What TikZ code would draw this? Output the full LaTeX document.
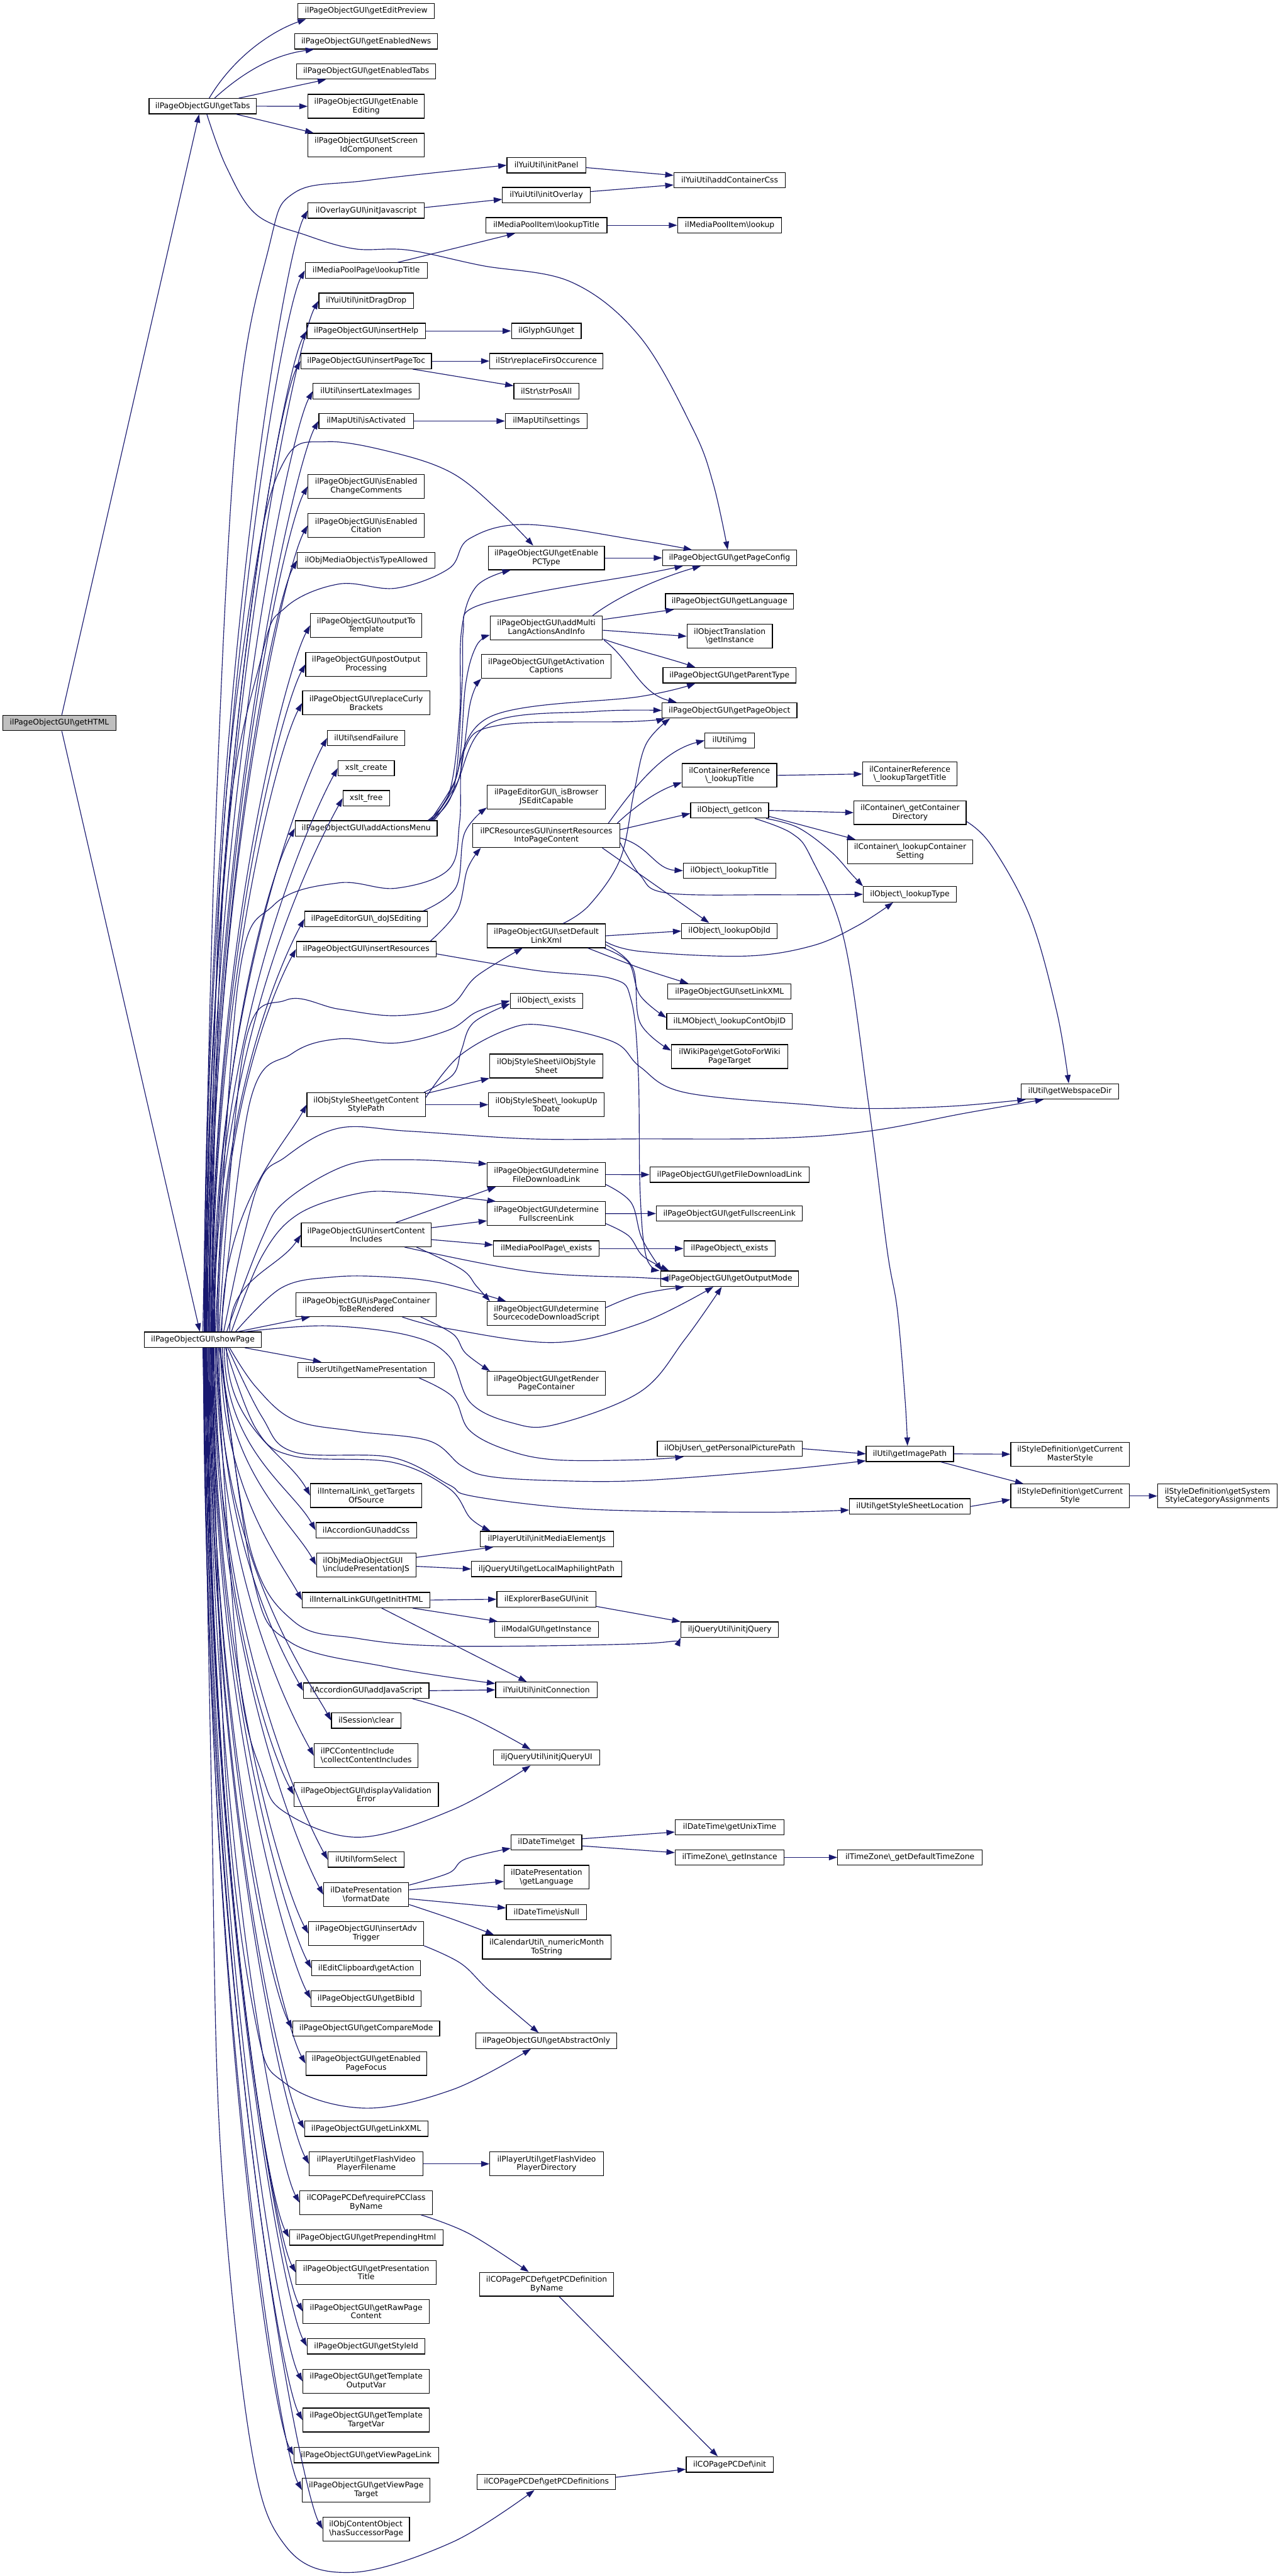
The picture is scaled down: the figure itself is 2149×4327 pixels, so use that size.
\documentclass[tikz,border=0pt]{standalone}
\usepackage{fontspec}
\setmainfont{DejaVu Sans}
\usetikzlibrary{arrows.meta,calc}
\definecolor{edgec}{HTML}{191970}
\definecolor{hdrfill}{HTML}{BFBFBF}
\newcommand\bsl{\textbackslash}
\tikzset{
 nbox/.style={draw=black, fill=white, line width=0.75pt, inner sep=0pt, align=center, font=\fontsize{7.4pt}{8.2pt}\selectfont},
 arr/.style={draw=edgec, line width=0.7pt, -{Triangle[length=8pt,width=5.5pt]}},
}
\newcommand\nA[5]{\node[nbox, minimum width={#4*0.569055pt}, minimum height=14.7pt] (#1) at (#2,#3) {#5};}
\newcommand\nB[5]{\node[nbox, minimum width={#4*0.569055pt}, minimum height=22.8pt] (#1) at (#2,#3) {#5};}
\newcommand\nL[5]{\node[nbox, align=left, minimum width={#4*0.569055pt}, minimum height=22.8pt] (#1) at (#2,#3) {#5};}
\newcommand\fanup[2]{\draw[arr] let \p1=(#1.west), \p2=($(showPage.north)+(#2,0)$), \n1={\y1-\y2} in (\p2) .. controls (\x2,{\y2+0.55*\n1}) and ({\x1-22pt},{\y1-min(40pt,0.35*\n1)}) .. (\p1);}
\newcommand\fandown[2]{\draw[arr] let \p1=(#1.west), \p2=($(showPage.south)+(#2,0)$), \n1={\y2-\y1} in (\p2) .. controls (\x2,{\y2-0.55*\n1}) and ({\x1-22pt},{\y1+min(40pt,0.35*\n1)}) .. (\p1);}
\newcommand\pth[1]{\draw[arr] plot[smooth, tension=0.6] coordinates {#1};}
\begin{document}
\begin{tikzpicture}[x=0.02cm,y=-0.02cm]
\fill[white] (0,0) rectangle (2149,4327);
\path[use as bounding box] (0,0) rectangle (2149,4327);
% ---------- column 1
\node[nbox, fill=hdrfill, minimum width={190*0.569055pt}, minimum height=14.7pt] (getHTML) at (99.8,1214.4) {ilPageObjectGUI\bsl getHTML};
\nA{getTabs}{340.4}{178.4}{180.3}{ilPageObjectGUI\bsl getTabs}
\nA{showPage}{340.7}{2250.4}{196}{ilPageObjectGUI\bsl showPage}
% ---------- column 2
\nA{editPrev}{615}{18.4}{229}{ilPageObjectGUI\bsl getEditPreview}
\nA{enNews}{615}{69.4}{240}{ilPageObjectGUI\bsl getEnabledNews}
\nA{enTabs}{615}{120}{233.6}{ilPageObjectGUI\bsl getEnabledTabs}
\nB{enEdit}{615}{178.6}{195.4}{ilPageObjectGUI\bsl getEnable\\Editing}
\nB{setScreen}{615}{243.9}{195.4}{ilPageObjectGUI\bsl setScreen\\IdComponent}
\nA{initJs}{615}{353.6}{195.4}{ilOverlayGUI\bsl initJavascript}
\nA{mppLookupTitle}{615}{454.3}{205}{ilMediaPoolPage\bsl lookupTitle}
\nA{dragDrop}{615}{505.3}{159}{ilYuiUtil\bsl initDragDrop}
\nA{insHelp}{615}{555.9}{198.8}{ilPageObjectGUI\bsl insertHelp}
\nA{insToc}{615}{606.5}{219.4}{ilPageObjectGUI\bsl insertPageToc}
\nA{latex}{615}{657.1}{178.2}{ilUtil\bsl insertLatexImages}
\nA{mapAct}{615}{707.2}{159}{ilMapUtil\bsl isActivated}
\nB{enCC}{615}{816.9}{195.4}{ilPageObjectGUI\bsl isEnabled\\ChangeComments}
\nB{enCit}{615}{882.6}{195.4}{ilPageObjectGUI\bsl isEnabled\\Citation}
\nA{typeAllowed}{615}{941.3}{231}{ilObjMediaObject\bsl isTypeAllowed}
\nB{outTpl}{615}{1050.5}{187.2}{ilPageObjectGUI\bsl outputTo\\Template}
\nB{postOut}{615}{1115.8}{203}{ilPageObjectGUI\bsl postOutput\\Processing}
\nB{curly}{615}{1180.8}{213.9}{ilPageObjectGUI\bsl replaceCurly\\Brackets}
\nA{sendFail}{615}{1239.7}{130.2}{ilUtil\bsl sendFailure}
\nA{xsltCreate}{615}{1290.3}{94.6}{xslt\_create}
\nA{xsltFree}{615}{1340.9}{78.1}{xslt\_free}
\nA{actMenu}{615}{1391.4}{238.6}{ilPageObjectGUI\bsl addActionsMenu}
\nA{doJS}{615}{1543.6}{206.4}{ilPageEditorGUI\bsl\_doJSEditing}
\nA{insRes}{615}{1594.2}{234.5}{ilPageObjectGUI\bsl insertResources}
\nB{cssPath}{615}{1855.6}{198.8}{ilObjStyleSheet\bsl getContent\\StylePath}
\nB{insCI}{615}{2074.2}{218}{ilPageObjectGUI\bsl insertContent\\Includes}
\nB{pcRender}{615}{2191.5}{235.8}{ilPageObjectGUI\bsl isPageContainer\\ToBeRendered}
\nA{namePres}{615}{2301.2}{229}{ilUserUtil\bsl getNamePresentation}
\nB{targets}{615}{2512}{187.2}{ilInternalLink\bsl\_getTargets\\OfSource}
\nA{accCss}{615}{2570.4}{169}{ilAccordionGUI\bsl addCss}
\nL{inclPres}{615}{2629}{167}{ilObjMediaObjectGUI\\\bsl includePresentationJS}
\nA{getInitHTML}{615}{2687.6}{214.7}{ilInternalLinkGUI\bsl getInitHTML}
\nA{accJs}{615}{2839.9}{210.7}{ilAccordionGUI\bsl addJavaScript}
\nA{sessClear}{615}{2890}{116.5}{ilSession\bsl clear}
\nL{collectCI}{615}{2949.1}{174.7}{ilPCContentInclude\\\bsl collectContentIncludes}
\nB{valErr}{615}{3014.4}{242.4}{ilPageObjectGUI\bsl displayValidation\\Error}
\nA{formSel}{615}{3123.6}{128.2}{ilUtil\bsl formSelect}
\nB{fmtDate}{615}{3182.4}{142.8}{ilDatePresentation\\\bsl formatDate}
\nB{advTrig}{615}{3247.7}{193.3}{ilPageObjectGUI\bsl insertAdv\\Trigger}
\nA{clipAct}{615}{3306.1}{183}{ilEditClipboard\bsl getAction}
\nA{bibId}{615}{3357.2}{185.1}{ilPageObjectGUI\bsl getBibId}
\nA{cmpMode}{615}{3407.3}{246.7}{ilPageObjectGUI\bsl getCompareMode}
\nB{pageFocus}{615}{3466.1}{202.9}{ilPageObjectGUI\bsl getEnabled\\PageFocus}
\nA{linkXML}{615}{3575.6}{207.1}{ilPageObjectGUI\bsl getLinkXML}
\nB{flashFile}{615}{3634.7}{191.2}{ilPlayerUtil\bsl getFlashVideo\\PlayerFilename}
\nB{reqPC}{615}{3699.7}{223}{ilCOPagePCDef\bsl requirePCClass\\ByName}
\nA{prepHtml}{615}{3758.3}{257.8}{ilPageObjectGUI\bsl getPrependingHtml}
\nB{presTitle}{615}{3817.1}{235.3}{ilPageObjectGUI\bsl getPresentation\\Title}
\nB{rawContent}{615}{3882.5}{212}{ilPageObjectGUI\bsl getRawPage\\Content}
\nA{styleId}{615}{3941.1}{198}{ilPageObjectGUI\bsl getStyleId}
\nB{tplOut}{615}{3999.9}{212.7}{ilPageObjectGUI\bsl getTemplate\\OutputVar}
\nB{tplTarget}{615}{4065}{212.7}{ilPageObjectGUI\bsl getTemplate\\TargetVar}
\nA{viewLink}{615}{4123.9}{243}{ilPageObjectGUI\bsl getViewPageLink}
\nB{viewTarget}{615}{4182.4}{214.7}{ilPageObjectGUI\bsl getViewPage\\Target}
\nL{succPage}{615}{4248}{145.3}{ilObjContentObject\\\bsl hasSuccessorPage}
% ---------- column 3
\nA{initPanel}{917.6}{277.5}{132.3}{ilYuiUtil\bsl initPanel}
\nA{initOverlay}{917.6}{327.8}{147.4}{ilYuiUtil\bsl initOverlay}
\nA{mpiLookupTitle}{917.6}{378.4}{203.6}{ilMediaPoolItem\bsl lookupTitle}
\nA{glyph}{917.6}{555.9}{117.2}{ilGlyphGUI\bsl get}
\nA{replFirst}{917.6}{606.5}{190}{ilStr\bsl replaceFirsOccurence}
\nA{strPos}{917.6}{657.1}{109}{ilStr\bsl strPosAll}
\nA{mapSet}{917.6}{707.2}{137.8}{ilMapUtil\bsl settings}
\nB{enPC}{917.6}{937.1}{195.4}{ilPageObjectGUI\bsl getEnable\\PCType}
\nB{multiLang}{917.6}{1054.6}{188.5}{ilPageObjectGUI\bsl addMulti\\LangActionsAndInfo}
\nB{actCap}{917.6}{1119.4}{217.3}{ilPageObjectGUI\bsl getActivation\\Captions}
\nB{jsCapable}{917.6}{1338.8}{198.8}{ilPageEditorGUI\bsl\_isBrowser\\JSEditCapable}
\nB{pcRes}{917.6}{1403.6}{246.8}{ilPCResourcesGUI\bsl insertResources\\IntoPageContent}
\nB{defLink}{917.6}{1571.9}{198.2}{ilPageObjectGUI\bsl setDefault\\LinkXml}
\nA{objExists}{918}{1681.1}{122}{ilObject\bsl\_exists}
\nB{objSS}{917.6}{1790.5}{190}{ilObjStyleSheet\bsl ilObjStyle\\Sheet}
\nB{upToDate}{917.6}{1855.6}{194}{ilObjStyleSheet\bsl\_lookupUp\\ToDate}
\nB{detFile}{917.6}{1972.9}{198.2}{ilPageObjectGUI\bsl determine\\FileDownloadLink}
\nB{detFull}{917.6}{2038.6}{198.2}{ilPageObjectGUI\bsl determine\\FullscreenLink}
\nA{mppExists}{917.6}{2097.2}{177.6}{ilMediaPoolPage\bsl\_exists}
\nB{detSrc}{917.6}{2206.5}{198.2}{ilPageObjectGUI\bsl determine\\SourcecodeDownloadScript}
\nB{renderPC}{917.6}{2323.7}{198.2}{ilPageObjectGUI\bsl getRender\\PageContainer}
\nA{mediaEl}{918.3}{2585.1}{224}{ilPlayerUtil\bsl initMediaElementJs}
\nA{maphi}{918}{2635.5}{252.2}{iljQueryUtil\bsl getLocalMaphilightPath}
\nA{explInit}{917.7}{2686.3}{166.3}{ilExplorerBaseGUI\bsl init}
\nA{modal}{917.8}{2737.1}{174.5}{ilModalGUI\bsl getInstance}
\nA{initConn}{917.7}{2838.5}{170.6}{ilYuiUtil\bsl initConnection}
\nA{jqUI}{918}{2952.1}{178.3}{iljQueryUtil\bsl initjQueryUI}
\nA{dtGet}{917.8}{3094.6}{118.9}{ilDateTime\bsl get}
\nB{dpLang}{917.9}{3153.2}{142.6}{ilDatePresentation\\\bsl getLanguage}
\nA{dtNull}{917.8}{3211.9}{134.7}{ilDateTime\bsl isNull}
\nB{monthStr}{918.2}{3270.5}{216.1}{ilCalendarUtil\bsl\_numericMonth\\ToString}
\nA{abstractOnly}{917.6}{3428}{236.7}{ilPageObjectGUI\bsl getAbstractOnly}
\nB{flashDir}{918}{3634.7}{190.7}{ilPlayerUtil\bsl getFlashVideo\\PlayerDirectory}
\nB{pcDefByName}{918.1}{3836.9}{224.5}{ilCOPagePCDef\bsl getPCDefinition\\ByName}
\nA{pcDefs}{917.6}{4169.1}{232.3}{ilCOPagePCDef\bsl getPCDefinitions}
% ---------- column 4
\nA{addCss}{1225.5}{302.6}{187.2}{ilYuiUtil\bsl addContainerCss}
\nA{mpiLookup}{1225.5}{378.4}{174.8}{ilMediaPoolItem\bsl lookup}
\nA{pageConfig}{1225.2}{937.1}{224.9}{ilPageObjectGUI\bsl getPageConfig}
\nA{lang}{1225.2}{1010.2}{215.3}{ilPageObjectGUI\bsl getLanguage}
\nB{transl}{1225.5}{1068.8}{143.3}{ilObjectTranslation\\\bsl getInstance}
\nA{parentType}{1225.2}{1134.4}{223.5}{ilPageObjectGUI\bsl getParentType}
\nA{pageObj}{1225.2}{1193.3}{226.3}{ilPageObjectGUI\bsl getPageObject}
\nA{img}{1225.5}{1243.8}{83}{ilUtil\bsl img}
\nB{crTitle}{1225.2}{1302.4}{159}{ilContainerReference\\\bsl\_lookupTitle}
\nA{getIcon}{1225.5}{1361.3}{131}{ilObject\bsl\_getIcon}
\nA{lookupTitle}{1225.2}{1462.5}{155}{ilObject\bsl\_lookupTitle}
\nA{lookupObjId}{1225.1}{1563.9}{160.4}{ilObject\bsl\_lookupObjId}
\nA{setLinkXML}{1225.2}{1665.5}{207}{ilPageObjectGUI\bsl setLinkXML}
\nA{contObjID}{1225.2}{1715.6}{211}{ilLMObject\bsl\_lookupContObjID}
\nB{wiki}{1225.5}{1774.7}{195.4}{ilWikiPage\bsl getGotoForWiki\\PageTarget}
\nA{fileDL}{1225.2}{1973.1}{267.3}{ilPageObjectGUI\bsl getFileDownloadLink}
\nA{fullLink}{1225.1}{2038.4}{245.4}{ilPageObjectGUI\bsl getFullscreenLink}
\nA{poExists}{1225.2}{2097.2}{153.5}{ilPageObject\bsl\_exists}
\nA{outMode}{1225.2}{2147.9}{231.7}{ilPageObjectGUI\bsl getOutputMode}
\nA{picPath}{1225.5}{2433.4}{243.4}{ilObjUser\bsl\_getPersonalPicturePath}
\nA{jq}{1225.6}{2737.3}{164}{iljQueryUtil\bsl initjQuery}
\nA{unixTime}{1225.5}{3069.3}{183}{ilDateTime\bsl getUnixTime}
\nA{tzInst}{1225.5}{3119.9}{183}{ilTimeZone\bsl\_getInstance}
\nA{pcInit}{1225.5}{4139.6}{146}{ilCOPagePCDef\bsl init}
% ---------- column 5
\nB{crTarget}{1528.1}{1300.1}{159}{ilContainerReference\\\bsl\_lookupTargetTitle}
\nB{contDir}{1528.5}{1365}{188.5}{ilContainer\bsl\_getContainer\\Directory}
\nB{contSetting}{1528.5}{1430.7}{210.4}{ilContainer\bsl\_lookupContainer\\Setting}
\nA{lookupType}{1528.1}{1502.2}{156.3}{ilObject\bsl\_lookupType}
\nA{imgPath}{1528.1}{2442.1}{146.7}{ilUtil\bsl getImagePath}
\nA{ssLoc}{1528.2}{2530.4}{203}{ilUtil\bsl getStyleSheetLocation}
\nA{defTZ}{1528.2}{3119.9}{242.7}{ilTimeZone\bsl\_getDefaultTimeZone}
% ---------- column 6/7
\nA{webspace}{1796.9}{1833.3}{163.2}{ilUtil\bsl getWebspaceDir}
\nB{masterStyle}{1797.2}{2442.6}{199.4}{ilStyleDefinition\bsl getCurrent\\MasterStyle}
\nB{curStyle}{1797.2}{2512.9}{199.4}{ilStyleDefinition\bsl getCurrent\\Style}
\nB{sysStyle}{2044.7}{2512.9}{200.8}{ilStyleDefinition\bsl getSystem\\StyleCategoryAssignments}

% ================= edges
\draw[arr] ($(getHTML.north)+(4,0)$) -- ($(getTabs.south)+(-6,0)$);
\draw[arr] ($(getHTML.south)+(4,0)$) -- ($(showPage.north)+(-5,0)$);
% getTabs
\draw[arr] ($(getTabs.north)+(11,0)$) .. controls (390,100) and (450,55) .. ($(editPrev.south west)+(14,0)$);
\draw[arr] ($(getTabs.north)+(20,0)$) .. controls (410,120) and (460,92) .. ($(enNews.south west)+(33,0)$);
\draw[arr] ($(getTabs.north east)+(-30,0)$) -- ($(enTabs.south west)+(50,0)$);
\draw[arr] (getTabs.east) -- (enEdit.west);
\draw[arr] ($(getTabs.south east)+(-34,0)$) -- ($(setScreen.north west)+(10,0)$);
\pth{($(getTabs.south)+(7,0)$) (380,280) (430,360) (514,395) (596,418) (685,420) (809,446) (960,474) (1075,566) (1164,721) (1198,813) ($(pageConfig.north)+(-3,0)$)}
% showPage fan up
\fanup{initJs}{2}
\fanup{mppLookupTitle}{3}
\fanup{dragDrop}{4}
\fanup{insHelp}{5}
\fanup{insToc}{6}
\fanup{latex}{7}
\fanup{mapAct}{8}
\fanup{enCC}{10}
\fanup{enCit}{11}
\fanup{typeAllowed}{12}
\fanup{outTpl}{14}
\fanup{postOut}{15}
\fanup{curly}{16}
\fanup{sendFail}{17}
\fanup{xsltCreate}{18}
\fanup{xsltFree}{19}
\fanup{actMenu}{20}
\fanup{doJS}{24}
\fanup{insRes}{26}
\fanup{cssPath}{32}
\fanup{insCI}{45}
\draw[arr] ($(showPage.north east)+(-40,0)$) -- ($(pcRender.south west)+(24,0)$);
\draw[arr] ($(showPage.south east)+(-28,0)$) -- ($(namePres.north west)+(40,0)$);
% showPage fan down
\fandown{targets}{40}
\fandown{accCss}{36}
\fandown{inclPres}{33}
\fandown{getInitHTML}{30}
\fandown{accJs}{27}
\fandown{sessClear}{25}
\fandown{collectCI}{23}
\fandown{valErr}{21}
\fandown{formSel}{19}
\fandown{fmtDate}{18}
\fandown{advTrig}{17}
\fandown{clipAct}{16}
\fandown{bibId}{15}
\fandown{cmpMode}{14}
\fandown{pageFocus}{13}
\fandown{linkXML}{12}
\fandown{flashFile}{11}
\fandown{reqPC}{10}
\fandown{prepHtml}{9}
\fandown{presTitle}{8}
\fandown{rawContent}{7}
\fandown{styleId}{6}
\fandown{tplOut}{5}
\fandown{tplTarget}{4}
\fandown{viewLink}{3}
\fandown{viewTarget}{2}
\fandown{succPage}{1}
% showPage long edges
\pth{($(showPage.north)+(0,0)$) (360,1442) (397,721) (452,414) (494,324) (617,303) (initPanel.west)}
\pth{($(showPage.north)+(9,0)$) (372,1442) (430,950) (480,770) (548,742) (660,760) (760,795) (840,860) ($(enPC.north)+(-22,0)$)}
\pth{($(showPage.north)+(13,0)$) (378,1442) (440,1100) (480,1020) (569,981) (665,988) (754,955) (788,905) (884,881) (1075,908) ($(pageConfig.north west)+(50,0)$)}
\pth{($(showPage.north)+(21,0)$) (400,1650) (460,1520) (569,1483) (665,1492) (754,1460) (772,1380) (780,1260) (840,1218) (1060,1212) ($(pageObj.south west)+(5,0)$)}
\pth{($(showPage.north)+(27,0)$) (410,1760) (480,1680) (569,1695) (665,1706) (754,1690) (800,1640) ($(defLink.south)+(-40,0)$)}
\pth{($(showPage.north)+(30,0)$) (420,1850) (490,1770) (569,1745) (665,1752) (754,1730) (800,1700) (objExists.west)}
\pth{($(showPage.north)+(35,0)$) (430,2000) (480,1943) (569,1895) (686,1900) (891,1913) (1075,1913) (1300,1912) (1459,1900) (1620,1870) ($(webspace.south west)+(38,0)$)}
\pth{($(showPage.north)+(40,0)$) (440,2080) (480,2017) (583,1957) (686,1948) ($(detFile.north west)+(0,3)$)}
\pth{($(showPage.north)+(48,0)$) (440,2110) (500,2040) (600,2005) (679,2003) ($(detFull.north west)+(15,0)$)}
\pth{($(showPage.north)+(55,0)$) (473,2163) (560,2145) (651,2145) (740,2155) ($(detSrc.north west)+(32,0)$)}
\pth{($(showPage.north east)+(-28,0)$) (548,2227) (686,2243) (754,2278) (790,2356) (860,2390) (932,2393) (1075,2338) (1150,2250) ($(outMode.south)+(-13,0)$)}
\pth{($(showPage.south)+(45,0)$) (430,2330) (494,2385) (596,2404) (720,2420) (775,2462) (822,2480) (932,2487) (1075,2487) (1300,2470) ($(imgPath.south west)+(0,-2)$)}
\pth{($(showPage.south)+(42,0)$) (440,2380) (494,2439) (658,2448) (754,2494) (788,2512) (932,2531) (1075,2538) (1300,2540) ($(ssLoc.west)+(0,6)$)}
\pth{($(showPage.south)+(38,0)$) (430,2400) (494,2446) (658,2456) (754,2500) (790,2550) ($(mediaEl.north west)+(18,0)$)}
\pth{($(showPage.south)+(28,0)$) (420,2600) (494,2724) (600,2752) (754,2765) (1075,2761) (jq.south west)}
\pth{($(showPage.south)+(29,0)$) (425,2650) (487,2758) (650,2800) ($(initConn.north west)+(0,3)$)}
\pth{($(showPage.south)+(22,0)$) (400,2800) (440,2980) (480,3045) (603,3086) (760,3040) ($(jqUI.south)+(-27,0)$)}
\pth{($(showPage.south)+(14,0)$) (380,3000) (430,3400) (480,3500) (610,3541) (760,3510) ($(abstractOnly.south)+(-26,0)$)}
\pth{(showPage.south) (355,3000) (370,3605) (420,4100) (480,4277) (590,4321) (760,4270) ($(pcDefs.south)+(-20,0)$)}
% upper region
\draw[arr] ($(initPanel.east)+(0,4)$) -- ($(addCss.west)+(0,-8)$);
\draw[arr] ($(initOverlay.east)+(0,-6)$) -- ($(addCss.west)+(0,8)$);
\draw[arr] ($(initJs.east)+(0,-5)$) -- ($(initOverlay.west)+(0,7)$);
\draw[arr] ($(mppLookupTitle.north)+(53,0)$) -- ($(mpiLookupTitle.south west)+(50,0)$);
\draw[arr] (mpiLookupTitle.east) -- (mpiLookup.west);
\draw[arr] (insHelp.east) -- (glyph.west);
\draw[arr] (insToc.east) -- (replFirst.west);
\draw[arr] ($(insToc.south east)+(-32,0)$) -- ($(strPos.west)+(0,-9)$);
\draw[arr] (mapAct.east) -- (mapSet.west);
% middle-upper
\draw[arr] (enPC.east) -- (pageConfig.west);
\draw[arr] ($(multiLang.north east)+(-17,0)$) .. controls (1040,1000) and (1110,970) .. ($(pageConfig.south west)+(65,0)$);
\draw[arr] ($(multiLang.east)+(0,-14)$) -- ($(lang.south west)+(15,0)$);
\draw[arr] ($(multiLang.east)+(0,4)$) -- (transl.west);
\draw[arr] ($(multiLang.south east)+(0,-2)$) .. controls (1060,1090) and (1120,1105) .. ($(parentType.north west)+(55,0)$);
\draw[arr] ($(multiLang.south east)+(2,0)$) .. controls (1060,1110) and (1075,1165) .. ($(pageObj.north west)+(25,0)$);
\pth{($(actMenu.north east)+(-12,0)$) (760,1320) (823,1204) (1075,1170) ($(parentType.south west)+(55,0)$)}
\pth{($(actMenu.north east)+(-8,0)$) (765,1320) (823,1215) (1000,1195) (pageObj.west)}
\pth{($(actMenu.north east)+(-16,0)$) (755,1330) (772,1200) (775,1060) (800,985) ($(enPC.south)+(-60,0)$)}
\pth{($(actMenu.north east)+(-14,0)$) (762,1325) (776,1150) (778,1060) (792,1022) (900,995) (1075,965) ($(pageConfig.south west)+(35,0)$)}
\pth{($(actMenu.north east)+(-10,0)$) (768,1300) (782,1150) (800,1085) ($(multiLang.west)+(0,12)$)}
\pth{($(actMenu.north east)+(-6,0)$) (770,1310) (790,1180) (actCap.south west)}
\pth{($(doJS.north east)+(-8,0)$) (766,1490) (780,1400) ($(jsCapable.south west)+(0,-3)$)}
\pth{($(insRes.north east)+(-10,0)$) (768,1530) (785,1460) ($(pcRes.south west)+(14,0)$)}
\pth{($(insRes.east)+(0,8)$) (900,1630) (1028,1644) (1060,1680) (1072,1800) (1075,2000) (1085,2110) ($(outMode.north west)+(-1,0)$)}
% pcResources
\draw[arr] ($(pcRes.north east)+(-20,0)$) .. controls (1060,1330) and (1110,1262) .. (img.west);
\draw[arr] ($(pcRes.north east)+(-5,0)$) .. controls (1060,1360) and (1100,1330) .. ($(crTitle.west)+(0,12)$);
\draw[arr] ($(pcRes.east)+(0,-10)$) -- ($(getIcon.west)+(0,5)$);
\draw[arr] ($(pcRes.east)+(0,4)$) .. controls (1090,1420) and (1100,1460) .. (lookupTitle.west);
\pth{($(pcRes.east)+(0,12)$) (1075,1470) (1120,1500) (1300,1503) (lookupType.west)}
\draw[arr] ($(pcRes.south east)+(-30,0)$) -- ($(lookupObjId.north)+(-34,0)$);
\draw[arr] (crTitle.east) -- (crTarget.west);
\draw[arr] (getIcon.east) -- (contDir.west);
\draw[arr] ($(getIcon.east)+(0,10)$) -- ($(contSetting.north west)+(14,0)$);
\pth{($(getIcon.south east)+(-5,0)$) (1340,1390) (1395,1430) (1430,1468) (lookupType.north west)}
\pth{($(getIcon.south east)+(-24,0)$) (1330,1400) (1363,1442) (1418,1580) (1459,1856) (1490,2100) (1507,2200) (1520,2350) ($(imgPath.north)+(-4,0)$)}
\pth{($(contDir.east)+(0,15)$) (1665,1420) (1730,1540) (1775,1700) ($(webspace.north)+(-2,0)$)}
% setDefaultLinkXml
\pth{($(defLink.north)+(28,0)$) (990,1520) (1042,1442) (1065,1330) (1085,1250) ($(pageObj.south west)+(14,0)$)}
\draw[arr] (defLink.east) -- (lookupObjId.west);
\pth{($(defLink.east)+(0,10)$) (1075,1598) (1250,1606) (1363,1589) (1440,1555) ($(lookupType.south)+(-28,0)$)}
\pth{($(defLink.south east)+(-30,0)$) (1075,1626) ($(setLinkXML.north west)+(35,0)$)}
\pth{($(defLink.south east)+(-3,0)$) (1056,1617) (1075,1672) ($(contObjID.west)+(0,-6)$)}
\pth{($(defLink.east)+(0,15)$) (1063,1626) (1075,1718) ($(wiki.west)+(0,-10)$)}
% content style path
\pth{($(cssPath.north east)+(-3,0)$) (761,1805) (775,1764) (795,1718) ($(objExists.west)+(0,5)$)}
\draw[arr] ($(cssPath.north east)+(0,2)$) -- (objSS.south west);
\draw[arr] (cssPath.east) -- (upToDate.west);
\pth{($(cssPath.east)+(0,-12)$) (770,1775) (850,1730) (912,1722) (1030,1750) (1075,1792) (1150,1835) (1363,1856) (1459,1862) (1600,1858) ($(webspace.south west)+(8,0)$)}
% content includes
\draw[arr] ($(insCI.north)+(50,0)$) -- ($(detFile.south west)+(15,0)$);
\draw[arr] ($(insCI.east)+(0,-12)$) -- ($(detFull.west)+(0,12)$);
\draw[arr] ($(insCI.east)+(0,8)$) -- ($(mppExists.west)+(0,-6)$);
\pth{($(insCI.south east)+(-45,0)$) (891,2136) (1075,2146) (outMode.west)}
\pth{($(insCI.south east)+(-25,0)$) (775,2132) (800,2160) ($(detSrc.north west)+(5,0)$)}
\draw[arr] (detFile.east) -- (fileDL.west);
\pth{($(detFile.south east)+(0,-4)$) (1060,2020) (1078,2080) ($(outMode.north west)+(3,0)$)}
\draw[arr] (detFull.east) -- (fullLink.west);
\pth{($(detFull.south east)+(0,-4)$) (1056,2076) (1080,2110) ($(outMode.north west)+(15,0)$)}
\draw[arr] (mppExists.east) -- (poExists.west);
\pth{($(detSrc.east)+(0,-10)$) (1075,2174) ($(outMode.south west)+(40,0)$)}
\pth{($(pcRender.south east)+(-27,0)$) (761,2241) (782,2273) ($(renderPC.north west)+(5,0)$)}
\pth{($(pcRender.south east)+(-58,0)$) (754,2232) (932,2255) (1075,2223) ($(outMode.south)+(-27,0)$)}
% lower region
\pth{($(namePres.south east)+(-26,0)$) (761,2347) (788,2402) (850,2435) (932,2452) (1075,2452) ($(picPath.south west)+(45,0)$)}
\draw[arr] (picPath.east) -- (imgPath.west);
\draw[arr] (imgPath.east) -- (masterStyle.west);
\draw[arr] ($(imgPath.south east)+(-22,0)$) -- ($(curStyle.north west)+(22,0)$);
\draw[arr] (ssLoc.east) -- ($(curStyle.west)+(0,6)$);
\draw[arr] (curStyle.east) -- (sysStyle.west);
\draw[arr] ($(inclPres.east)+(0,-13)$) -- ($(mediaEl.south west)+(23,0)$);
\draw[arr] ($(inclPres.east)+(0,2)$) -- (maphi.west);
\draw[arr] (getInitHTML.east) -- (explInit.west);
\draw[arr] ($(getInitHTML.south east)+(-30,0)$) -- ($(modal.north west)+(6,0)$);
\draw[arr] ($(getInitHTML.south)+(26,0)$) -- ($(initConn.north)+(-33,0)$);
\draw[arr] ($(explInit.east)+(0,12)$) -- (jq.north west);
\draw[arr] (accJs.east) -- (initConn.west);
\pth{($(accJs.south east)+(-28,0)$) (788,2884) ($(jqUI.north)+(-27,0)$)}
\pth{($(fmtDate.east)+(0,-16)$) (754,3146) (781,3123) ($(dtGet.west)+(0,10)$)}
\draw[arr] ($(fmtDate.east)+(0,-8)$) -- ($(dpLang.west)+(0,7)$);
\draw[arr] ($(fmtDate.east)+(0,7)$) -- ($(dtNull.west)+(0,-7)$);
\pth{($(fmtDate.south east)+(0,-4)$) (761,3224) ($(monthStr.north west)+(20,0)$)}
\draw[arr] ($(dtGet.east)+(0,-6)$) -- ($(unixTime.west)+(0,8)$);
\draw[arr] ($(dtGet.east)+(0,6)$) -- ($(tzInst.west)+(0,-8)$);
\draw[arr] (tzInst.east) -- (defTZ.west);
\pth{($(advTrig.south east)+(0,0)$) (774,3298) (822,3344) ($(abstractOnly.north)+(-13,0)$)}
\draw[arr] (flashFile.east) -- (flashDir.west);
\pth{($(reqPC.south east)+(-20,0)$) (788,3752) ($(pcDefByName.north)+(-30,0)$)}
\draw[arr] ($(pcDefByName.south)+(21,0)$) -- ($(pcInit.north)+(-20,0)$);
\draw[arr] ($(pcDefs.east)+(0,-8)$) -- ($(pcInit.west)+(0,8)$);
\end{tikzpicture}
\end{document}
